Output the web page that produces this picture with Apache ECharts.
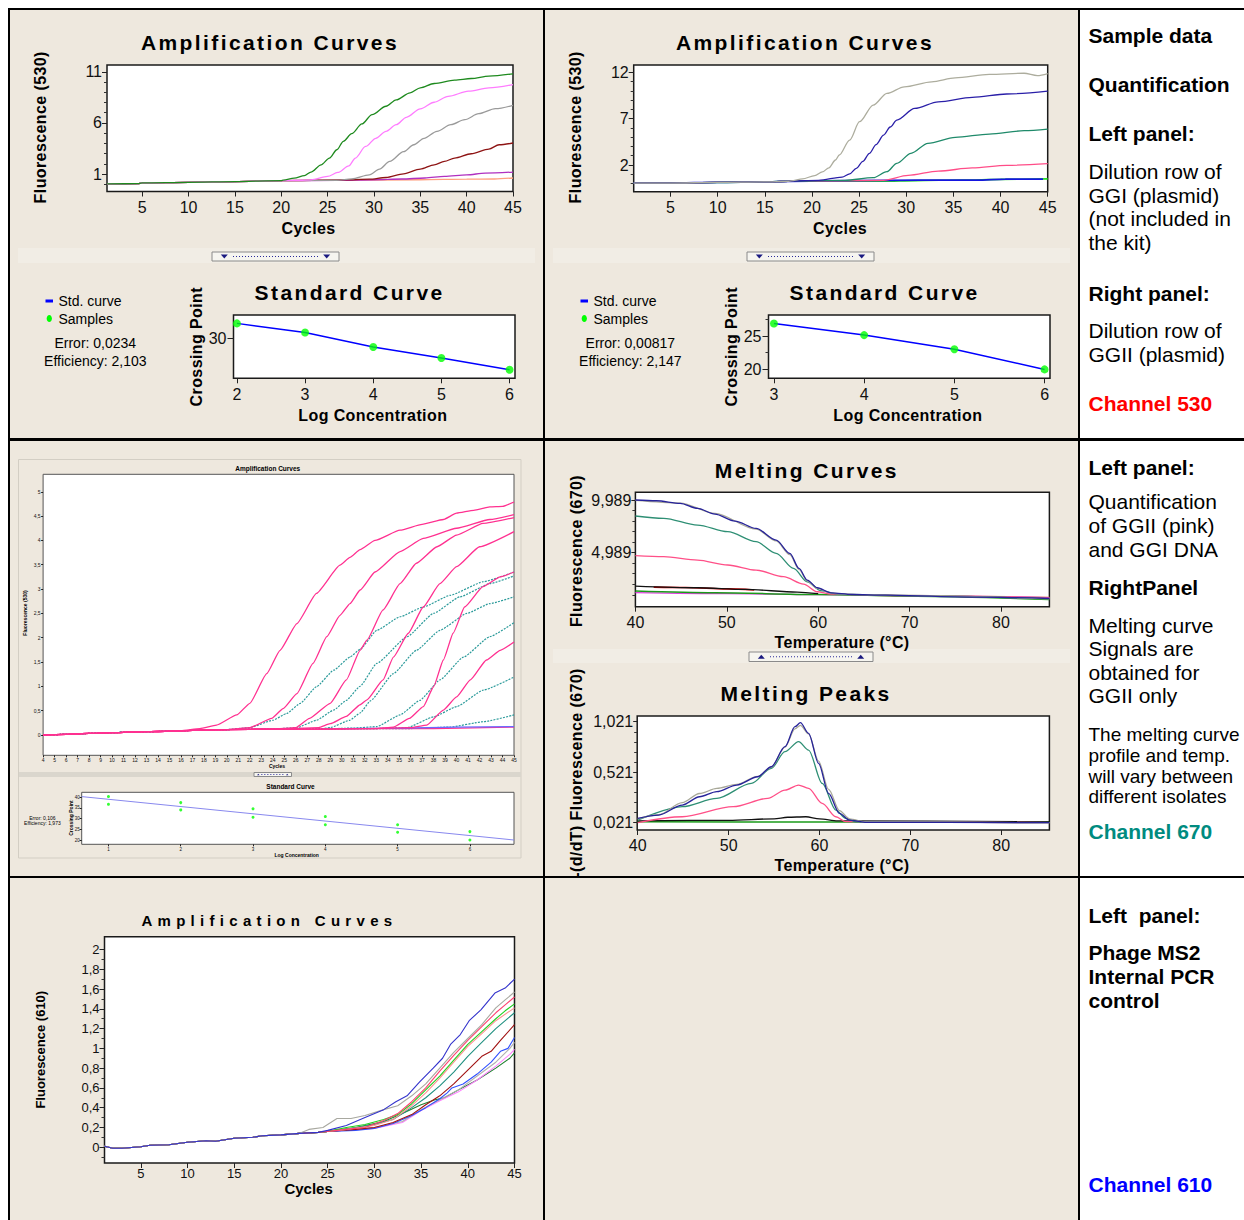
<!DOCTYPE html>
<html><head><meta charset="utf-8">
<script src="https://cdn.jsdelivr.net/npm/echarts@6.0.0/dist/echarts.min.js"></script>
<style>
html,body{margin:0;padding:0;background:#fff;}
#c{width:1244px;height:1220px;}
text[style*="lsA"],text[font-family*="lsA"]{letter-spacing:2.4px;}
text[style*="lsB"],text[font-family*="lsB"]{letter-spacing:5.3px;}
text[style*="lsC"],text[font-family*="lsC"]{letter-spacing:0.4px;}
</style></head><body><div id="c"></div>
<script>
// ================= DATA =================
// Panel 1 (Channel 530, GGI dilution row) amplification curves [cycle, fluorescence]
const p1Base   = [[1.2,0.05],[4.5,0.06],[5,0.15],[10,0.2],[15,0.27],[20,0.36]];
const p1Green  = [[20.2,0.42],[21.4,0.6],[22.5,0.85],[23.2,1.2],[24.3,1.91],[25.2,2.57],[26,3.38],[26.7,4.2],[27.6,4.95],[28.7,5.9],[29.8,6.82],[31.3,7.63],[32.4,8.25],[33.9,8.94],[35,9.43],[36.5,9.85],[38.7,10.18],[40.5,10.34],[42.4,10.57],[45,10.8]];
const p1Pink   = [[22,0.4],[23.2,0.44],[25,0.77],[26.1,1.16],[27.3,1.81],[28,2.57],[29.1,3.7],[30.2,4.5],[31.3,5.18],[32.4,5.83],[33.5,6.55],[35,7.37],[36.5,8.02],[38,8.6],[40.2,9.1],[42.4,9.43],[45,9.75]];
const p1Gray   = [[26,0.4],[27.6,0.54],[29.5,0.93],[30.6,1.49],[31.7,2.24],[33.2,3.2],[34.3,3.87],[35.4,4.5],[36.8,5.18],[38.3,5.83],[39.8,6.32],[41.3,6.9],[43.1,7.39],[45,7.72]];
const p1Maroon = [[26.7,0.44],[29.5,0.5],[31.3,0.67],[33.2,1.03],[35,1.49],[36.5,1.91],[37.6,2.24],[38.7,2.57],[40.5,2.99],[42.4,3.45],[43.5,3.87],[45,4.04]];
const p1Purple = [[26,0.38],[30,0.45],[33,0.52],[35.5,0.62],[37.6,0.77],[40,0.92],[42,1.1],[45,1.2]];
const p1Salmon = [[25,0.4],[35,0.45],[40,0.5],[43,0.52],[45,0.62]];
const p1XTicks = [5,10,15,20,25,30,35,40,45];
const p1YTicks = [1,6,11];
const p1YMinor = [0,2,3,4,5,7,8,9,10];
// Panel 1 standard curve
const p1StdLog = [2,3,4,5,6];
const p1StdCp  = [34.05,31.6,27.7,24.76,21.6];
const p1StdXTicks = [2,3,4,5,6];
const p1StdYTicks = [30];

// Panel 2 (Channel 530, GGII dilution row)
const p2Base   = [[1.1,0.05],[5,0.05],[10,0.12],[15,0.18],[17.5,0.25]];
const p2Gray   = [[17.8,0.28],[19,0.5],[20.3,0.86],[21.1,1.25],[21.8,1.7],[22.5,2.54],[22.9,3.08],[24.0,4.69],[25.05,6.67],[26.5,8.47],[27.95,9.72],[29.8,10.44],[32.7,10.98],[35.2,11.4],[38.8,11.77],[42.5,11.9],[43.9,11.65],[45,11.87]];
const p2Indigo = [[20.7,0.35],[23.2,0.7],[24.0,1.05],[24.7,1.64],[25.4,2.4],[26.1,3.26],[26.8,4.2],[27.6,5.23],[28.3,6.1],[29.0,6.85],[30.9,8.1],[33.4,8.82],[37.0,9.3],[40.65,9.66],[45,9.98]];
const p2Teal   = [[23.5,0.35],[26.5,0.63],[27.95,1.28],[29.0,2.18],[30.5,3.26],[32.3,4.34],[35.2,4.98],[38.8,5.34],[42.5,5.7],[45,5.88]];
const p2Pink   = [[27.6,0.35],[30.2,0.88],[33.4,1.35],[37.0,1.68],[40.65,1.96],[45,2.15]];
const p2Green  = [[27.5,0.25],[31,0.32],[36,0.38],[40,0.45],[45,0.5]];
const p2Blue   = [[31.5,0.36],[37.5,0.36],[40.5,0.47],[44.5,0.48]];
const p2XTicks = [5,10,15,20,25,30,35,40,45];
const p2YTicks = [2,7,12];
const p2YMinor = [0,1,3,4,5,6,8,9,10,11];
const p2StdLog = [3,4,5,6];
const p2StdCp  = [26.9,25.15,23.0,19.95];
const p2StdXTicks = [3,4,5,6];
const p2StdYTicks = [20,25];
const p2StdYMinor = [22.5,27.5];

// Panel 3 (Channel 530 GGI/GGII quantification)
const p3Base  = [[4,0],[6,0.01],[8,0.03],[10,0.045],[12,0.06],[14,0.07],[16,0.085],[18,0.1],[20,0.11],[24,0.12],[28,0.12],[32,0.13]];
const p3PinkA = [[17.66,0.13],[19.1,0.2],[20.86,0.41],[22.0,0.65],[23.47,1.26],[24.63,1.74],[26.1,2.29],[27.8,2.91],[29.85,3.49],[30.72,3.65],[31.6,3.81],[32.9,4.0],[35.08,4.21],[37,4.33],[38.85,4.43],[40.0,4.56],[41.5,4.62],[42.9,4.69],[44,4.7],[45,4.79]];
const p3PinkB = [[22,0.15],[23.9,0.34],[24.9,0.54],[26.1,0.85],[27.5,1.47],[28.7,2.02],[29.85,2.46],[30.72,2.7],[31.6,2.98],[32.9,3.35],[35.08,3.77],[37.1,4.04],[40.0,4.25],[42.9,4.43],[45,4.53]];
const p3PinkC = [[26,0.15],[27.2,0.34],[29.0,0.65],[30.4,1.13],[31.6,1.74],[32.2,1.95],[33.6,2.57],[35.08,3.11],[36.5,3.53],[38.3,3.87],[40.0,4.11],[42.3,4.35],[45,4.47]];
const p3PinkD = [[28,0.15],[29.0,0.23],[30.4,0.38],[31.6,0.62],[32.2,0.72],[33.6,1.13],[34.5,1.6],[35.8,2.09],[37.1,2.63],[38.55,3.11],[40.0,3.46],[42.0,3.87],[45,4.18]];
const p3PinkE = [[33,0.13],[34.5,0.16],[35.9,0.34],[37.1,0.58],[38.0,0.99],[38.85,1.54],[39.7,2.09],[40.7,2.63],[42.3,3.05],[43.8,3.25],[45,3.35]];
const p3PinkF = [[36,0.15],[37.4,0.2],[38.85,0.51],[40.0,0.78],[41.2,1.13],[42.6,1.54],[43.8,1.74],[45,1.91]];
const p3PinkFlat = [[33,0.13],[38,0.13],[45,0.16]];
const p3Teal1 = [[22,0.15],[24.0,0.3],[25.2,0.44],[26.4,0.65],[27.8,0.99],[29.3,1.33],[30.72,1.6],[31.6,1.76],[33.05,2.15],[35.08,2.43],[37.1,2.63],[39.43,2.87],[42.33,3.15],[45,3.35]];
const p3Teal2 = [[26.1,0.15],[27.8,0.3],[29.3,0.51],[30.4,0.71],[31.6,1.0],[33.05,1.47],[35.7,2.02],[38.0,2.5],[40.3,2.84],[42.9,3.11],[45,3.27]];
const p3Teal3 = [[29,0.15],[30.7,0.3],[31.6,0.45],[32.5,0.7],[34.5,1.26],[36.5,1.74],[38.55,2.15],[40.9,2.5],[42.9,2.7],[45,2.84]];
const p3Teal4 = [[31,0.14],[33.05,0.17],[35.08,0.41],[36.8,0.71],[38.55,1.13],[40.6,1.6],[42.9,2.02],[45,2.31]];
const p3Teal5 = [[33,0.13],[35.7,0.15],[38.0,0.37],[40.0,0.58],[42.33,0.92],[45,1.19]];
const p3Teal6 = [[36,0.13],[39.4,0.16],[42.33,0.27],[45,0.41]];
const p3BlueFlat = [[30,0.13],[35,0.14],[40,0.16],[45,0.17]];
const p3XTicks = [4,5,6,7,8,9,10,11,12,13,14,15,16,17,18,19,20,21,22,23,24,25,26,27,28,29,30,31,32,33,34,35,36,37,38,39,40,41,42,43,44,45];
const p3YTicks = [0,0.5,1,1.5,2,2.5,3,3.5,4,4.5,5];
const p3StdLog = [1,1,2,2,3,3,4,4,5,5,6,6];
const p3StdCp  = [40.3,36.7,37.5,34.1,34.6,30.7,31.0,27.2,27.2,23.7,24.0,20.1];
const p3StdLine = [[0.63,40.3],[6.61,20.1]];
const p3StdXTicks = [1,2,3,4,5,6];
const p3StdYTicks = [20,25,30,35,40];

// Panel 4 (Channel 670 melting) [temperature, value]
const p4MeltIndigo = [[40,9.99],[42.3,9.92],[44.9,9.67],[46.8,9.19],[48.7,8.65],[50.9,7.99],[53.2,7.29],[55.4,6.18],[56.9,4.92],[57.9,3.5],[58.8,2.39],[59.9,1.66],[61.4,1.18],[63.7,1.02],[67.4,0.96],[74.9,0.8],[85.3,0.64]];
const p4MeltGray   = [[40,9.95],[44.9,9.7],[48.7,8.72],[53.2,7.22],[55.4,6.1],[56.9,4.8],[57.9,3.4],[58.8,2.3],[59.9,1.6],[61.4,1.15],[63.7,1.0],[85.3,0.6]];
const p4MeltTeal   = [[40,8.47],[43.1,8.25],[46.8,7.61],[50.1,6.98],[53.2,6.03],[55.4,4.92],[57.3,3.5],[58.8,2.23],[60.3,1.38],[62.2,1.06],[70,0.9],[85.3,0.62]];
const p4MeltPink   = [[40,4.7],[43.1,4.61],[46.8,4.29],[50.1,3.82],[53.2,3.34],[56.2,2.71],[58.4,2.01],[59.9,1.28],[61.4,1.06],[70,0.9],[85.3,0.68]];
const p4MeltBlack  = [[40,1.82],[46.8,1.66],[52,1.5],[57.7,1.25],[60,1.1]];
const p4MeltRed    = [[42,1.72],[45.5,1.68],[50,1.55],[53,1.45]];
const p4MeltGreen  = [[40,1.34],[48.7,1.18],[59.9,1.02],[70.8,0.86],[85.3,0.54]];
const p4MeltMag    = [[40,1.2],[50,1.1],[60,1.0],[75,0.85],[85.3,0.72]];
const p4MeltOrange = [[66,0.95],[75,0.85],[85.3,0.74]];
const p4MeltXTicks = [40,50,60,70,80];
const p4MeltYTicks = [4.989,9.989];
const p4MeltYMinor = [0.989,1.989,2.989,3.989,5.989,6.989,7.989,8.989];
const p4PeakIndigo = [[40,0.064],[42.3,0.097],[44.9,0.196],[46.8,0.278],[48.7,0.328],[50.9,0.394],[53.2,0.476],[54.7,0.575],[56.2,0.773],[57.3,0.971],[57.9,1.011],[58.8,0.905],[59.9,0.608],[61.0,0.311],[62.2,0.113],[63.3,0.047],[65,0.025],[85.3,0.021]];
const p4PeakGray   = [[40,0.06],[42.3,0.1],[44.9,0.22],[46.8,0.31],[48.7,0.36],[50.9,0.4],[53.2,0.48],[54.7,0.57],[56.2,0.77],[57.3,0.95],[57.9,0.985],[58.8,0.9],[59.9,0.63],[61.0,0.35],[62.2,0.14],[63.3,0.06],[65,0.03],[85.3,0.021]];
const p4PeakTeal   = [[40,0.047],[44.9,0.18],[48.7,0.262],[52.5,0.41],[54.7,0.559],[56.2,0.724],[57.7,0.823],[58.8,0.74],[60.3,0.41],[61.8,0.146],[62.9,0.064],[64,0.03],[85.3,0.021]];
const p4PeakPink   = [[40,0.021],[44.9,0.08],[50.5,0.18],[54.3,0.262],[56.2,0.344],[57.7,0.394],[58.8,0.361],[60.3,0.212],[61.8,0.08],[62.9,0.031],[85.3,0.021]];
const p4PeakBlack  = [[40,0.04],[50,0.045],[55,0.06],[56.5,0.075],[58.5,0.08],[60,0.06],[62,0.04],[85.3,0.03]];
const p4PeakGreen  = [[40,0.03],[60,0.028],[85.3,0.025]];
const p4PeakXTicks = [40,50,60,70,80];
const p4PeakYTicks = [0.021,0.521,1.021];
const p4PeakYMinor = [0.121,0.221,0.321,0.421,0.621,0.721,0.821,0.921];

// Panel 5 (Channel 610, MS2 internal control)
const p5Base = [[1.12,0.01],[2,-0.01],[3,-0.01],[5,0.005],[6,0.02],[8,0.025],[10,0.05],[12,0.065],[13,0.06],[15,0.09],[17,0.1],[18,0.115],[20,0.125],[22,0.14],[24,0.15],[25,0.16]];
const p5DarkBlue = [[25,0.17],[27,0.22],[29,0.3],[31,0.38],[32.3,0.46],[33.5,0.52],[34.85,0.66],[36.3,0.8],[37.3,0.9],[38.15,1.04],[39.2,1.14],[40.15,1.28],[41.4,1.39],[42.9,1.56],[44,1.61],[45,1.7]];
const p5Gray     = [[23,0.18],[24.5,0.2],[26,0.29],[27.5,0.29],[29,0.32],[31,0.38],[32.5,0.42],[34,0.52],[35.5,0.64],[37,0.8],[38.5,0.96],[40,1.1],[41.5,1.24],[43,1.41],[44,1.49],[45,1.57]];
const p5Pink     = [[27,0.18],[29,0.2],[31,0.27],[32.5,0.34],[34,0.46],[35.5,0.6],[37,0.77],[38.5,0.93],[40,1.08],[41.5,1.22],[43,1.36],[44,1.44],[45,1.52]];
const p5Green    = [[27,0.2],[29,0.23],[31,0.28],[32.5,0.33],[34,0.44],[35.5,0.58],[37,0.72],[38.5,0.88],[40,1.04],[41.5,1.17],[43,1.3],[44,1.38],[45,1.45]];
const p5Salmon   = [[27,0.18],[30,0.22],[32,0.28],[34,0.42],[35.5,0.55],[37,0.7],[38.5,0.86],[40,1.02],[41.5,1.15],[43,1.28],[45,1.41]];
const p5Teal     = [[27,0.18],[30,0.23],[32,0.28],[34,0.4],[35.5,0.5],[37,0.62],[38.5,0.76],[40,0.92],[41.5,1.06],[43,1.2],[45,1.36]];
const p5DarkRed  = [[28,0.18],[30,0.2],[32,0.25],[34,0.33],[35.5,0.43],[37,0.52],[38.5,0.64],[40,0.78],[41.5,0.92],[42.5,0.97],[43.5,1.08],[45,1.24]];
const p5Blue     = [[28,0.17],[30,0.19],[32,0.24],[34,0.32],[35.5,0.4],[37,0.49],[37.8,0.55],[38.3,0.6],[39.5,0.64],[41,0.74],[42.5,0.86],[43.5,0.97],[44.3,1.0],[45,1.11]];
const p5LightGray= [[30,0.2],[33,0.26],[35,0.38],[37,0.48],[39,0.58],[41,0.72],[43,0.86],[44.5,1.0],[45,1.06]];
const p5Magenta  = [[30,0.19],[33,0.25],[35,0.37],[37,0.47],[39,0.56],[41,0.68],[43,0.82],[44.5,0.94],[45,0.99]];
const p5DarkGreen= [[28,0.2],[31,0.26],[33,0.34],[35,0.43],[36.5,0.48],[37.5,0.5],[39,0.58],[41,0.68],[43,0.8],[44.5,0.9],[45,0.955]];
const p5XTicks = [5,10,15,20,25,30,35,40,45];
const p5YTicks = [0,0.2,0.4,0.6,0.8,1,1.2,1.4,1.6,1.8,2];
const p5YMinor = [-0.1,0.1,0.3,0.5,0.7,0.9,1.1,1.3,1.5,1.7,1.9];

// ================= BUILD =================
const BEIGE = '#EEE8DE';
const TICKF = "'Liberation Sans Narrow','Liberation Sans',Arial,sans-serif";
const SANS  = "'Liberation Sans',Arial,sans-serif";
const TITLEF = "'Liberation Sans',Arial,lsA";
const AXNF = "'Liberation Sans',Arial,lsC";
const comma = v => String(v).replace('.', ',');
const withBase = (base, c) => base.filter(p => p[0] < c[0][0]).concat(c);

const grids = [], xAxis = [], yAxis = [], series = [];
function axisCfg(gi, a, dir) {
  return {
    type: 'value', gridIndex: gi, min: a.min, max: a.max,
    position: dir === 'x' ? 'bottom' : 'left',
    axisLine: {show: false, onZero: false}, splitLine: {show: false},
    axisTick: {show: true, customValues: a.ticks, length: a.tl || 5, inside: false, lineStyle: {color: '#222', width: 1}},
    axisLabel: {show: true, customValues: a.ticks, formatter: comma, fontSize: a.fs || 16, fontFamily: a.ff || TICKF,
      fontWeight: a.fw || 'normal', color: '#111', margin: a.m, hideOverlap: false},
    axisPointer: {show: false}, silent: true
  };
}
function minorCfg(gi, a, dir) {
  return {
    type: 'value', gridIndex: gi, min: a.min, max: a.max,
    position: dir === 'x' ? 'bottom' : 'left',
    axisLine: {show: false, onZero: false}, splitLine: {show: false},
    axisTick: {show: true, customValues: a.minor, length: a.mtl || 3, inside: false, lineStyle: {color: '#333', width: 1}},
    axisLabel: {show: false}, axisPointer: {show: false}, silent: true
  };
}
function plot(box, x, y, border) {
  const gi = grids.length;
  grids.push({left: box[0], top: box[1], width: box[2], height: box[3], show: true, backgroundColor: '#fff',
    borderColor: border ? border.c : '#1a1a1a', borderWidth: border ? border.w : 1.5, containLabel: false, outerBoundsMode: 'none'});
  const xi = xAxis.length; xAxis.push(axisCfg(gi, x, 'x'));
  const yi = yAxis.length; yAxis.push(axisCfg(gi, y, 'y'));
  if (y.minor) yAxis.push(minorCfg(gi, y, 'y'));
  return {xi, yi};
}
function line(ax, data, color, o) {
  o = o || {};
  series.push({type: 'line', xAxisIndex: ax.xi, yAxisIndex: ax.yi, data: data, symbol: 'none', showSymbol: false,
    smooth: o.smooth === undefined ? 0.3 : o.smooth, smoothMonotone: 'x', clip: true, silent: true, animation: false,
    lineStyle: {color: color, width: o.w || 1.3, type: o.type || 'solid'}, z: 2});
}
function dots(ax, xs, ys, size) {
  series.push({type: 'scatter', xAxisIndex: ax.xi, yAxisIndex: ax.yi, data: xs.map((v, i) => [v, ys[i]]),
    symbol: 'circle', symbolSize: size, itemStyle: {color: '#00FF00'}, silent: true, animation: false, z: 3});
}

// Panel 1 amplification
const a1 = plot([107, 65, 406, 126.5], {min: 1.2, max: 45, ticks: p1XTicks, m: 8},
  {min: -0.7, max: 11.66, ticks: p1YTicks, minor: p1YMinor, m: 5});
line(a1, withBase(p1Base, [[20.1, 0.37]]), '#1E8A1E');
line(a1, withBase(p1Base, p1Salmon), '#FFA080');
line(a1, withBase(p1Base, p1Purple), '#B030C0');
line(a1, withBase(p1Base, p1Maroon), '#8E1414');
line(a1, withBase(p1Base, p1Gray), '#9A9A9A');
line(a1, withBase(p1Base, p1Pink), '#FF7CFF');
line(a1, withBase(p1Base, p1Green), '#1E8A1E');
// Panel 1 standard curve
const s1 = plot([233.5, 315, 281.5, 63.3], {min: 1.95, max: 6.08, ticks: p1StdXTicks, m: 8},
  {min: 19.3, max: 36.3, ticks: p1StdYTicks, m: 7, tl: 6});
line(s1, p1StdLog.map((v, i) => [v, p1StdCp[i]]), '#0000FF', {smooth: false, w: 1.5});
dots(s1, p1StdLog, p1StdCp, 8);

// Panel 2 amplification
const a2 = plot([633.7, 65, 414, 126.7], {min: 1.1, max: 45, ticks: p2XTicks, m: 8},
  {min: -0.88, max: 12.79, ticks: p2YTicks, minor: p2YMinor, m: 5});
line(a2, withBase(p2Base, [[27, 0.3]]), '#1515E0');
line(a2, withBase(p2Base, p2Green), '#22DD22', {w: 1.6});
line(a2, withBase(p2Base, p2Blue), '#1515E0', {w: 1.8});
line(a2, withBase(p2Base, p2Pink), '#FF4D88');
line(a2, withBase(p2Base, p2Teal), '#1F8A6A');
line(a2, withBase(p2Base, p2Indigo), '#2A1FA8');
line(a2, withBase(p2Base, p2Gray), '#ADAD9E');
// Panel 2 standard curve
const s2 = plot([768.5, 315, 281.5, 63.3], {min: 2.94, max: 6.06, ticks: p2StdXTicks, m: 8},
  {min: 18.6, max: 28.2, ticks: p2StdYTicks, minor: p2StdYMinor, m: 7, tl: 6});
line(s2, p2StdLog.map((v, i) => [v, p2StdCp[i]]), '#0000FF', {smooth: false, w: 1.5});
dots(s2, p2StdLog, p2StdCp, 8);

// Panel 3 amplification
const a3 = plot([43.1, 474.3, 470.9, 281], {min: 4, max: 45, ticks: p3XTicks, m: 2, fs: 5, tl: 2, ff: SANS},
  {min: -0.42, max: 5.36, ticks: p3YTicks, m: 2.5, fs: 5, tl: 2, ff: SANS}, {c: '#555', w: 1});
[p3Teal6, p3Teal5, p3Teal4, p3Teal3, p3Teal2, p3Teal1].forEach(c => line(a3, withBase(p3Base, c), '#2A9A9A', {w: 1.2, type: [2, 1.2], smooth: 0.15}));
line(a3, withBase(p3Base, p3PinkFlat), '#FF3090', {smooth: 0.15});
line(a3, p3BlueFlat, '#6A6AFF', {smooth: 0.15});
[p3PinkF, p3PinkE, p3PinkD, p3PinkC, p3PinkB, p3PinkA].forEach(c => line(a3, withBase(p3Base, c), '#FF3090', {w: 1.3, smooth: 0.15}));
// Panel 3 standard curve
const s3 = plot([81.7, 792.3, 432.3, 52], {min: 0.63, max: 6.61, ticks: p3StdXTicks, m: 3, fs: 4.5, tl: 2, ff: SANS},
  {min: 18.1, max: 42.3, ticks: p3StdYTicks, m: 2, fs: 4.5, tl: 2, ff: SANS}, {c: '#555', w: 1});
line(s3, p3StdLine, '#8888EE', {smooth: false, w: 1});
dots(s3, p3StdLog, p3StdCp, 3);

// Panel 4 melting curves
const m4 = plot([635.4, 492.3, 414, 114.4], {min: 40, max: 85.3, ticks: p4MeltXTicks, m: 8},
  {min: -0.14, max: 10.72, ticks: p4MeltYTicks, minor: p4MeltYMinor, m: 4, tl: 4});
line(m4, p4MeltOrange, '#E09030', {w: 1.5});
line(m4, p4MeltMag, '#E040E0');
line(m4, p4MeltGreen, '#1A9A1A', {w: 1.5});
line(m4, p4MeltRed, '#D00000', {w: 1.6});
line(m4, p4MeltBlack, '#111111');
line(m4, p4MeltPink, '#FF5088');
line(m4, p4MeltTeal, '#2E8F74');
line(m4, p4MeltGray, '#A8A898');
line(m4, p4MeltIndigo, '#27239A');
// Panel 4 melting peaks
const k4 = plot([637.2, 716, 412.2, 114], {min: 39.94, max: 85.3, ticks: p4PeakXTicks, m: 7},
  {min: -0.051, max: 1.077, ticks: p4PeakYTicks, minor: p4PeakYMinor, m: 4, tl: 4});
line(k4, p4PeakGreen, '#1A9A1A', {w: 1.5});
line(k4, p4PeakBlack, '#111111');
line(k4, p4PeakPink, '#FF5088');
line(k4, p4PeakTeal, '#2E8F74');
line(k4, p4PeakGray, '#A8A898');
line(k4, p4PeakIndigo, '#27239A');

// Panel 5 amplification
const a5 = plot([104.5, 936.7, 410, 226.3], {min: 1.12, max: 45, ticks: p5XTicks, m: 4, fs: 13, ff: SANS},
  {min: -0.16, max: 2.13, ticks: p5YTicks, minor: p5YMinor, m: 5, fs: 13, ff: SANS});
const p5Curves = [[p5DarkGreen, '#208030'], [p5Magenta, '#FF80FF'], [p5LightGray, '#B0B0B0'], [p5Blue, '#3050FF'],
  [p5DarkRed, '#A01010'], [p5Teal, '#209080'], [p5Salmon, '#FF9090'], [p5Green, '#20D020'], [p5Pink, '#FF4070'],
  [p5Gray, '#A8A8A0'], [p5DarkBlue, '#3333CC']];
p5Curves.forEach(c => line(a5, withBase(p5Base, c[0]), c[1], {smooth: false, w: 1.1}));

// ================= GRAPHICS =================
const G = [];
function rect(x, y, w, h, fill, z, stroke) {
  G.push({type: 'rect', z: z === undefined ? -10 : z, silent: true, shape: {x: x, y: y, width: w, height: h},
    style: {fill: fill || 'none', stroke: stroke || null, lineWidth: stroke ? 1 : 0}});
}
function txt(x, y, text, font, o) {
  o = o || {};
  G.push({type: 'text', x: x, y: y, rotation: o.rot || 0, z: 60, silent: true,
    style: {text: text, font: font, fill: o.color || '#000', textAlign: o.align || 'center', align: o.align || 'center',
      textVerticalAlign: 'middle', verticalAlign: 'middle'}});
}
function splitter(x, y, w, h, up, s) {
  rect(x, y, w, h, '#F6F5F0', 5, '#8A8A8A');
  const cy = y + h / 2, d = s || 1;
  G.push({type: 'line', z: 6, silent: true, shape: {x1: x + 21 * d, y1: cy, x2: x + w - 21 * d, y2: cy},
    style: {stroke: '#2a2a9a', lineWidth: 1, lineDash: [1, 2]}});
  [x + 12.3 * d, x + w - 12.3 * d].forEach(cx => {
    const pts = up ? [[cx - 3.5 * d, cy + 2 * d], [cx + 3.5 * d, cy + 2 * d], [cx, cy - 2 * d]]
                   : [[cx - 3.5 * d, cy - 2 * d], [cx + 3.5 * d, cy - 2 * d], [cx, cy + 2 * d]];
    G.push({type: 'polygon', z: 6, silent: true, shape: {points: pts}, style: {fill: '#1a1a80'}});
  });
}
// cell backgrounds
rect(10, 10, 533, 428, BEIGE);
rect(545, 10, 533, 428, BEIGE);
rect(10, 441, 533, 435, BEIGE);
rect(545, 441, 533, 435, BEIGE);
rect(10, 878, 533, 342, BEIGE);
rect(545, 878, 533, 342, BEIGE);
// subtle sub-panel shading
rect(18, 248, 517, 15, '#F1EDE5', -9);
rect(553, 248, 517, 15, '#F1EDE5', -9);
rect(553, 649, 517, 14, '#F1EDE5', -9);
rect(18.5, 459.5, 502.5, 398.5, null, -8, '#D3CEC4');
rect(19, 772, 502, 5, '#DAD6CD', -8);
// grid lines of the table
rect(8, 8, 1236, 2, '#000', 50);
rect(8, 8, 2, 1212, '#000', 50);
rect(543, 8, 2, 1212, '#000', 50);
rect(1078, 8, 2, 1212, '#000', 50);
rect(8, 438, 1236, 3, '#000', 50);
rect(8, 876, 1236, 2, '#000', 50);
// splitters
splitter(212, 252, 127, 9, false);
splitter(747, 252, 127, 9, false);
splitter(749, 652, 124, 9.5, true);
splitter(254, 772.5, 37.5, 4, true, 0.35);

const TB = 'bold 21px ' + TITLEF;
const AX = 'bold 16px ' + AXNF;
// Panel 1 texts
txt(270, 42, 'Amplification Curves', TB);
txt(308.6, 228, 'Cycles', AX);
txt(40.7, 127.3, 'Fluorescence (530)', AX, {rot: Math.PI / 2});
txt(349.6, 292.7, 'Standard Curve', TB);
txt(196, 346.7, 'Crossing Point', AX, {rot: Math.PI / 2});
txt(372.8, 415, 'Log Concentration', AX);
// Panel 2 texts
txt(805, 42, 'Amplification Curves', TB);
txt(840, 228, 'Cycles', AX);
txt(575.7, 127.3, 'Fluorescence (530)', AX, {rot: Math.PI / 2});
txt(884.6, 292.7, 'Standard Curve', TB);
txt(731, 346.7, 'Crossing Point', AX, {rot: Math.PI / 2});
txt(907.8, 415, 'Log Concentration', AX);
// legends
const LF = '14px ' + SANS;
[[0, '0,0234', '2,103'], [535, '0,00817', '2,147']].forEach(l => {
  const dx = l[0];
  rect(45.5 + dx, 299.5, 7.5, 3, '#0000FF', 20);
  G.push({type: 'ellipse', z: 20, silent: true, shape: {cx: 49.3 + dx, cy: 318.5, rx: 2.6, ry: 3.6}, style: {fill: '#00FF00'}});
  txt(58.5 + dx, 300.5, 'Std. curve', LF, {align: 'left'});
  txt(58.5 + dx, 318.5, 'Samples', LF, {align: 'left'});
  txt(95.3 + dx, 343.3, 'Error: ' + l[1], LF);
  txt(95.3 + dx, 360.5, 'Efficiency: ' + l[2], LF);
});
// Panel 3 tiny texts
txt(267.7, 468, 'Amplification Curves', 'bold 6.5px ' + SANS);
txt(277, 766, 'Cycles', 'bold 5px ' + SANS);
txt(25.4, 613, 'Fluorescence (530)', 'bold 5px ' + SANS, {rot: Math.PI / 2});
txt(290.5, 786, 'Standard Curve', 'bold 6.5px ' + SANS);
txt(71.4, 818, 'Crossing Point', 'bold 5px ' + SANS, {rot: Math.PI / 2});
txt(296.7, 855, 'Log Concentration', 'bold 5px ' + SANS);
txt(42.4, 817.6, 'Error: 0,106', '5px ' + SANS);
txt(42.4, 823.4, 'Efficiency: 1,973', '5px ' + SANS);
// Panel 4 texts
txt(806.8, 470, 'Melting Curves', TB);
txt(842, 642, 'Temperature (°C)', AX);
txt(576.5, 551, 'Fluorescence (670)', AX, {rot: Math.PI / 2});
txt(806, 693, 'Melting Peaks', TB);
txt(842, 865, 'Temperature (°C)', AX);
txt(576.5, 773, '-(d/dT) Fluorescence (670)', AX, {rot: Math.PI / 2});
// Panel 5 texts
txt(269.4, 920.7, 'Amplification Curves', "bold 15px 'Liberation Sans',Arial,lsB");
txt(308.6, 1188, 'Cycles', 'bold 15px ' + SANS);
txt(40, 1049.7, 'Fluorescence (610)', 'bold 13px ' + TICKF, {rot: Math.PI / 2});

// Right column notes
const notes = [
  ['Sample data', 35, 'b'], ['Quantification', 84, 'b'], ['Left panel:', 133, 'b'],
  ['Dilution row of', 171], ['GGI (plasmid)', 195], ['(not included in', 218], ['the kit)', 242],
  ['Right panel:', 293, 'b'], ['Dilution row of', 330], ['GGII (plasmid)', 354],
  ['Channel 530', 403, 'b', '#FF0000'],
  ['Left panel:', 467, 'b'], ['Quantification', 501], ['of GGII (pink)', 525], ['and GGI DNA', 549],
  ['RightPanel', 587, 'b'], ['Melting curve', 625], ['Signals are', 648], ['obtained for', 672], ['GGII only', 695],
  ['The melting curve', 734, 's'], ['profile and temp.', 755, 's'], ['will vary between', 776, 's'], ['different isolates', 796, 's'],
  ['Channel 670', 831, 'b', '#008B80'],
  ['Left\u00a0 panel:', 915, 'b'], ['Phage MS2', 952, 'b'], ['Internal PCR', 976, 'b'], ['control', 1000, 'b'],
  ['Channel 610', 1184, 'b', '#0000FF']
];
notes.forEach(n => {
  const f = n[2] === 'b' ? 'bold 21px ' + SANS : (n[2] === 's' ? '19px ' + SANS : '21px ' + SANS);
  txt(1088.5, n[1], n[0], f, {align: 'left', color: n[3] || '#000'});
});

const chart = echarts.init(document.getElementById('c'), null, {renderer: 'svg', width: 1244, height: 1220});
chart.setOption({
  animation: false, backgroundColor: '#fff',
  grid: grids, xAxis: xAxis, yAxis: yAxis, series: series,
  graphic: {elements: G}
});
</script></body></html>
